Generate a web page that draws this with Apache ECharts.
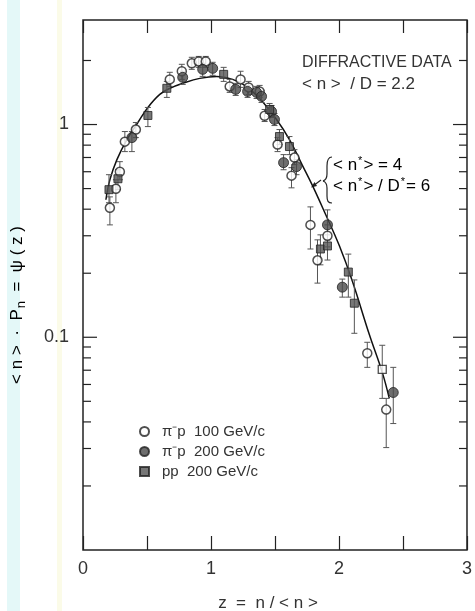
<!DOCTYPE html>
<html>
<head>
<meta charset="utf-8">
<script src="https://cdn.jsdelivr.net/npm/echarts@6/dist/echarts.min.js"></script>
<style>
html,body{margin:0;padding:0;background:#fff;}
#chart{width:475px;height:611px;}
</style>
</head>
<body>
<div id="chart"></div>
<script>
// ---- data ----
const xTickLabels = ['0', '1', '2', '3'];
const yTickLabels = ['0.1', '1'];
const yMajorTicks = [0.1, 1];
const yMinorTicks = [0.02,0.03,0.04,0.05,0.06,0.07,0.08,0.09,0.2,0.3,0.4,0.5,0.6,0.7,0.8,0.9,2];

const curveZ = [0.179,0.210,0.265,0.343,0.429,0.507,0.600,0.678,0.779,0.912,1.044,1.169,1.263,1.380,1.512,1.613,1.715,1.793,1.886,2.003,2.104,2.237,2.338,2.393];
const curveY = [0.443,0.550,0.684,0.850,1.022,1.203,1.385,1.479,1.561,1.648,1.684,1.630,1.527,1.326,1.056,0.850,0.641,0.516,0.389,0.269,0.1837,0.103,0.0684,0.0516];

// pi- p 100 GeV/c (open circles)
const openZ  = [0.210,0.257,0.288,0.327,0.413,0.678,0.772,0.850,0.904,0.959,1.146,1.231,1.294,1.380,1.419,1.520,1.652,1.629,1.777,1.910,1.832,2.221,2.369];
const openY  = [0.406,0.499,0.600,0.831,0.947,1.63,1.78,1.94,1.98,1.98,1.51,1.63,1.495,1.43,1.10,0.805,0.699,0.575,0.3375,0.30,0.23,0.0841,0.0457];
const openHi = [0.457,0.55,0.669,0.927,1.022,1.76,1.919,2.07,2.09,2.09,1.63,1.78,1.595,1.527,1.177,0.868,0.762,0.627,0.410,0.3375,0.287,0.0947,0.0516];
const openLo = [0.3375,0.429,0.55,0.746,0.868,1.511,1.63,1.817,1.857,1.857,1.416,1.495,1.385,1.341,1.033,0.746,0.648,0.504,0.260,0.266,0.1797,0.0722,0.0303];
// same data set, drawn as an open square in the reference
const openSqZ  = [2.338];
const openSqY  = [0.0706];
const openSqHi = [0.0917];
const openSqLo = [0.0516];

// pi- p 200 GeV/c (filled circles)
const fcZ  = [0.382,0.779,0.935,1.013,1.193,1.286,1.356,1.395,1.473,1.496,1.567,1.668,1.910,2.026,2.424];
const fcY  = [0.868,1.666,1.817,1.837,1.463,1.431,1.416,1.356,1.152,1.056,0.662,0.634,0.3375,0.172,0.055];
const fcHi = [0.927,1.78,1.94,1.961,1.561,1.527,1.511,1.447,1.229,1.127,0.722,0.684,0.397,0.1877,0.0722];
const fcLo = [0.746,1.544,1.684,1.703,1.370,1.341,1.326,1.27,1.079,0.989,0.613,0.581,0.287,0.1544,0.0393];

// pp 200 GeV/c (filled squares)
const sqZ  = [0.203,0.273,0.507,0.655,1.099,1.458,1.535,1.613,1.855,1.910,2.073,2.120];
const sqY  = [0.494,0.556,1.103,1.48,1.721,1.177,0.878,0.788,0.26,0.2687,0.2025,0.1446];
const sqHi = [0.581,0.613,1.203,1.595,1.857,1.256,0.947,0.878,0.303,0.303,0.246,0.186];
const sqLo = [0.429,0.494,0.978,1.341,1.595,1.091,0.805,0.722,0.219,0.2307,0.1544,0.1044];

const seriesNames = ['π⁻p  100 GeV/c', 'π⁻p  200 GeV/c', 'pp  200 GeV/c'];

// ---- build ----
const FONT = 'Liberation Sans';
const INK = '#222';
function pts(zs, ys) { return zs.map((z, i) => [z, ys[i]]); }
function errs(zs, ys, lo, hi) { return zs.map((z, i) => [z, ys[i], lo[i], hi[i]]); }

function errRender(params, api) {
  const x = api.value(0);
  const top = api.coord([x, api.value(3)]);
  const bot = api.coord([x, api.value(2)]);
  const c = 3;
  const st = { stroke: '#555', lineWidth: 1 };
  return { type: 'group', children: [
    { type: 'line', shape: { x1: top[0], y1: top[1], x2: bot[0], y2: bot[1] }, style: st },
    { type: 'line', shape: { x1: top[0]-c, y1: top[1], x2: top[0]+c, y2: top[1] }, style: st },
    { type: 'line', shape: { x1: bot[0]-c, y1: bot[1], x2: bot[0]+c, y2: bot[1] }, style: st }
  ]};
}
function tickRender(len) {
  return function (params, api) {
    const v = api.value(1);
    const l = api.coord([0, v]);
    const r = api.coord([3, v]);
    const st = { stroke: INK, lineWidth: 1.2 };
    return { type: 'group', children: [
      { type: 'line', shape: { x1: l[0], y1: l[1], x2: l[0]+len, y2: l[1] }, style: st },
      { type: 'line', shape: { x1: r[0]-len, y1: r[1], x2: r[0], y2: r[1] }, style: st }
    ]};
  };
}
function errSeries(data) {
  return { type: 'custom', renderItem: errRender, data: data, encode: { x: 0, y: 1 }, z: 3, silent: true, clip: false };
}
function bez(x1, y1, cx1, cy1, cx2, cy2, x2, y2) {
  return { type: 'bezierCurve', silent: true, shape: { x1: x1, y1: y1, cpx1: cx1, cpy1: cy1, cpx2: cx2, cpy2: cy2, x2: x2, y2: y2 },
    style: { fill: 'none', stroke: INK, lineWidth: 1.2 } };
}
function seg(x1, y1, x2, y2) {
  return { type: 'line', silent: true, shape: { x1: x1, y1: y1, x2: x2, y2: y2 }, style: { stroke: INK, lineWidth: 1.2 } };
}

const chart = echarts.init(document.getElementById('chart'), null, { renderer: 'canvas' });
const option = {
  animation: false,
  backgroundColor: '#ffffff',
  textStyle: { fontFamily: FONT },
  grid: { left: 83, right: 7, top: 20, bottom: 61, show: true, borderColor: INK, borderWidth: 1.5, backgroundColor: 'transparent' },
  xAxis: [
    { type: 'value', min: 0, max: 3, interval: 0.5, position: 'bottom',
      axisLine: { show: false }, splitLine: { show: false },
      axisTick: { show: true, inside: true, length: 14, lineStyle: { color: INK, width: 1.2 } },
      axisLabel: { margin: 10, fontSize: 18, color: '#333', fontFamily: FONT,
        formatter: v => { const i = xTickLabels.indexOf(String(v)); return i >= 0 ? xTickLabels[i] : ''; } } },
    { type: 'value', min: 0, max: 3, interval: 0.5, position: 'top',
      axisLine: { show: false }, splitLine: { show: false },
      axisTick: { show: true, inside: true, length: 13, lineStyle: { color: INK, width: 1.2 } },
      axisLabel: { show: false } }
  ],
  yAxis: [
    { type: 'log', logBase: 10, min: 0.01, max: 3.1,
      axisLine: { show: false }, splitLine: { show: false }, axisTick: { show: false },
      axisLabel: { margin: 14, fontSize: 18, color: '#333', fontFamily: FONT,
        formatter: v => { for (let i = 0; i < yMajorTicks.length; i++) { if (Math.abs(v - yMajorTicks[i]) < 1e-6 * yMajorTicks[i] + 1e-9) return yTickLabels[i]; } return ''; } } }
  ],
  legend: {
    data: seriesNames, orient: 'vertical', left: 134, top: 419, itemWidth: 9, itemHeight: 9, itemGap: 5,
    textStyle: { fontSize: 15, color: '#333', fontFamily: FONT, padding: [0, 0, 0, 8] }
  },
  series: [
    { type: 'custom', renderItem: tickRender(14), data: yMajorTicks.map(v => [0, v]), encode: { x: 0, y: 1 }, silent: true, clip: false, z: 1 },
    { type: 'custom', renderItem: tickRender(8), data: yMinorTicks.map(v => [0, v]), encode: { x: 0, y: 1 }, silent: true, clip: false, z: 1 },
    { type: 'line', data: pts(curveZ, curveY), smooth: 0.4, symbol: 'none', lineStyle: { color: '#111', width: 1.5 }, z: 2, silent: true },
    errSeries(errs(openZ, openY, openLo, openHi)),
    errSeries(errs(openSqZ, openSqY, openSqLo, openSqHi)),
    errSeries(errs(fcZ, fcY, fcLo, fcHi)),
    errSeries(errs(sqZ, sqY, sqLo, sqHi)),
    { name: seriesNames[0], type: 'scatter', data: pts(openZ, openY), symbol: 'circle', symbolSize: 9, z: 4,
      itemStyle: { color: '#fff', borderColor: INK, borderWidth: 1.5 } },
    { name: seriesNames[0] + ' ', type: 'scatter', data: pts(openSqZ, openSqY), symbol: 'rect', symbolSize: 8, z: 4,
      itemStyle: { color: '#fff', borderColor: INK, borderWidth: 1.3 } },
    { name: seriesNames[1], type: 'scatter', data: pts(fcZ, fcY), symbol: 'circle', symbolSize: 10, z: 5,
      itemStyle: { color: '#4a4a4a', borderColor: INK, borderWidth: 1 } },
    { name: seriesNames[2], type: 'scatter', data: pts(sqZ, sqY), symbol: 'rect', symbolSize: 8, z: 5,
      itemStyle: { color: '#555', borderColor: INK, borderWidth: 1 } }
  ],
  graphic: [
    { type: 'rect', z: -100, silent: true, shape: { x: 7, y: 0, width: 13, height: 611 }, style: { fill: '#e4f8f8' } },
    { type: 'rect', z: -100, silent: true, shape: { x: 57, y: 0, width: 5, height: 611 }, style: { fill: '#fbfbe8' } },
    { type: 'text', silent: true, x: 302, y: 63, style: { text: 'DIFFRACTIVE DATA', font: '16px ' + FONT, fill: '#333', textVerticalAlign: 'middle' } },
    { type: 'text', silent: true, x: 302, y: 84, style: { text: '< n >  / D = 2.2', font: '17px ' + FONT, fill: '#333', textVerticalAlign: 'middle' } },
    { type: 'text', silent: true, x: 333, y: 165, style: {
        text: '{a|< n}{s|*}{a|> = 4}', textVerticalAlign: 'middle',
        rich: { a: { fontSize: 17, fontFamily: FONT, color: '#333' }, s: { fontSize: 11, fontFamily: FONT, color: '#333', verticalAlign: 'top', padding: [0, 1, 8, 1] } } } },
    { type: 'text', silent: true, x: 333, y: 186, style: {
        text: '{a|< n}{s|*}{a|> / D}{s|*}{a|= 6}', textVerticalAlign: 'middle',
        rich: { a: { fontSize: 17, fontFamily: FONT, color: '#333' }, s: { fontSize: 11, fontFamily: FONT, color: '#333', verticalAlign: 'top', padding: [0, 1, 8, 1] } } } },
    bez(332, 157, 328, 157, 327, 160, 327, 166),
    seg(327, 166, 327, 174),
    bez(327, 174, 327, 178, 326, 180, 323, 181),
    bez(323, 181, 326, 182, 327, 184, 327, 188),
    seg(327, 188, 327, 196),
    bez(327, 196, 327, 201, 328, 203, 332, 203),
    seg(321, 180, 313, 186),
    { type: 'polygon', silent: true, shape: { points: [[311, 187.5], [317, 186], [314.5, 182]] }, style: { fill: INK } },
    { type: 'text', silent: true, x: 17, y: 305, rotation: Math.PI / 2, style: {
        text: '{a|< n >  ·  P}{b|n}{a|  =  ψ ( z )}', textAlign: 'center', textVerticalAlign: 'middle',
        rich: { a: { fontSize: 17, fontFamily: FONT, color: '#333' }, b: { fontSize: 13, fontFamily: FONT, color: '#333', padding: [8, 0, 0, 1] } } } },
    { type: 'text', silent: true, x: 268, y: 603, style: { text: 'z  =  n / < n >', font: '17px ' + FONT, fill: '#333', textAlign: 'center', textVerticalAlign: 'middle' } }
  ]
};
chart.setOption(option);
</script>
</body>
</html>
